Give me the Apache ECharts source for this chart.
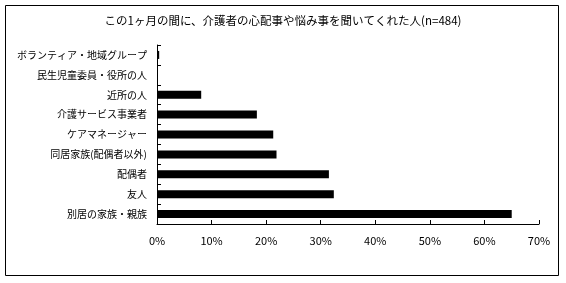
<!DOCTYPE html>
<html><head><meta charset="utf-8">
<script src="https://cdn.jsdelivr.net/npm/echarts@6/dist/echarts.min.js"></script>
<style>html,body{margin:0;padding:0;background:#fff}#c{width:566px;height:283px}</style>
</head><body><div id="c"></div>
<script>
const titleText = 'この1ヶ月の間に、介護者の心配事や悩み事を聞いてくれた人(n=484)';
const categories = ['ボランティア・地域グループ','民生児童委員・役所の人','近所の人','介護サービス事業者','ケアマネージャー','同居家族(配偶者以外)','配偶者','友人','別居の家族・親族'];
const values = [0.4, 0, 8.1, 18.3, 21.3, 21.9, 31.5, 32.4, 65.0];
const xTicks = [0,10,20,30,40,50,60,70];

const chart = echarts.init(document.getElementById('c'), null, {renderer:'canvas'});
const font = '"Noto Sans CJK JP", sans-serif';
chart.setOption({
  animation:false,
  backgroundColor:'#fff',
  graphic:[{type:'rect', shape:{x:5.5,y:5.5,width:553,height:270}, style:{fill:'none', stroke:'#000', lineWidth:1}, z:-1}],
  title:{text:titleText, left:'center', top:10, textStyle:{fontFamily:font, fontSize:11.5, fontWeight:'normal', color:'#000'}},
  grid:{left:157, right:27, top:45, bottom:59, containLabel:false},
  xAxis:{type:'value', min:xTicks[0], max:xTicks[xTicks.length-1], interval:10,
    axisLine:{show:true, lineStyle:{color:'#000', width:1}},
    axisTick:{show:true, inside:true, length:4, lineStyle:{color:'#000'}},
    splitLine:{show:false},
    axisLabel:{formatter:v=>v+'%', fontFamily:font, fontSize:11, color:'#000', margin:11}},
  yAxis:{type:'category', data:categories, inverse:true,
    axisLine:{show:true, lineStyle:{color:'#000', width:1}},
    axisTick:{show:true, inside:true, length:4, lineStyle:{color:'#000'}},
    axisLabel:{fontFamily:font, fontSize:10, color:'#000', margin:10}},
  series:[{type:'bar', data:values, barWidth:8, itemStyle:{color:'#000'}}]
});
</script></body></html>
